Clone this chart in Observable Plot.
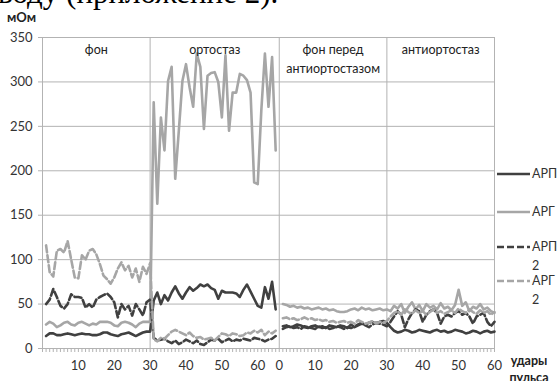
<!DOCTYPE html>
<html><head><meta charset="utf-8">
<script src="https://cdn.jsdelivr.net/npm/d3@7"></script>
<script src="https://cdn.jsdelivr.net/npm/@observablehq/plot@0.6"></script>
<style>
body{margin:0;background:#fff;}
#c{position:relative;width:558px;height:381px;overflow:hidden;}
</style>
</head><body><div id="c"></div>
<script>
// ---- data ----
const seriesNames = ["АРП", "АРГ", "АРП 2", "АРГ 2"];
const panelNames = ["фон", "ортостаз", "фон перед\nантиортостазом", "антиортостаз"];
const yTicks = [0, 50, 100, 150, 200, 250, 300, 350];
const part1TickLabels = [10, 20, 30, 40, 50, 60];
const part2TickLabels = [0, 10, 20, 30, 40, 50, 60];
const PART2_START = 66;           // category where second record (label 0) begins
const panelBounds = [0, 30, 66, 96, 126];

// part 1: фон (1..30) + ортостаз (31..65)
const ARP_1 = [14,17,17,15,15,16,17,16,15,16,17,16,16,15,15,16,18,18,16,15,14,16,17,18,16,14,16,18,19,19,
  54,63,50,60,54,63,70,62,56,63,69,65,68,72,70,72,68,66,56,65,63,63,63,62,58,66,72,64,56,48,46,69,56,75,44];
const ARG_1 = [27,30,28,24,26,29,30,27,26,29,30,28,26,28,27,30,30,30,29,26,25,29,30,29,27,24,28,30,30,30,
  277,163,260,223,301,317,191,245,301,320,294,272,332,317,247,307,310,311,300,260,330,245,288,288,309,307,302,288,187,185,268,332,272,328,223];
const ARP2_1 = [50,55,67,58,48,45,50,61,58,58,57,46,50,46,55,58,60,62,58,52,35,50,44,48,37,50,44,37,52,55,
  12,9,10,11,8,6,9,5,7,10,8,6,9,5,4,7,10,9,11,7,9,11,8,10,9,11,10,9,12,11,10,8,10,11,14];
const ARG2_1 = [116,86,81,110,112,108,121,100,80,79,105,100,110,112,106,95,82,78,73,80,90,97,88,93,80,90,75,92,84,96,
  10,8,12,11,15,19,21,19,17,15,18,14,12,13,10,11,12,9,13,17,16,14,17,16,14,15,18,17,20,18,21,15,19,17,20];

// part 2: фон перед антиортостазом (1..30) + антиортостаз (31..60)
const ARP_2 = [25,26,24,25,27,26,24,23,25,26,24,25,23,26,25,24,26,25,23,27,24,26,28,27,29,30,28,30,31,29,
  24,20,18,19,21,20,18,19,21,20,19,18,20,21,19,20,18,19,21,20,19,17,18,20,19,17,19,20,18,19];
const ARG_2 = [50,49,47,48,46,47,45,46,44,45,46,44,45,43,44,42,41,41,42,44,45,43,46,44,45,43,44,45,43,44,
  42,48,45,50,40,47,52,44,49,42,50,46,48,44,51,45,47,43,49,66,48,52,42,47,45,50,44,46,42,40];
const ARP2_2 = [22,24,25,23,24,22,25,24,23,22,25,23,24,22,23,25,24,22,24,23,25,27,29,26,24,27,29,28,27,25,
  30,36,42,38,24,33,40,44,42,30,38,42,44,40,28,36,38,36,40,42,38,40,36,28,36,38,40,30,25,30];
const ARG2_2 = [34,35,33,34,32,33,35,33,34,32,33,31,32,30,31,29,30,31,29,30,28,32,30,28,29,31,28,30,29,31,
  36,40,42,38,44,41,39,43,40,42,38,41,44,40,42,39,41,43,40,45,42,40,44,41,39,43,40,42,38,41];

// ---- build ----
const DARK = "#404040", LIGHT = "#a6a6a6", GRID = "#b3b3b3";
const FONT = "Lato, 'Open Sans', sans-serif";
function rows(p1, p2) {
  return [...p1.map((v, i) => ({g: i + 1, v, part: 1})),
          ...p2.map((v, i) => ({g: PART2_START + i + 1, v, part: 2}))];
}
const series = [
  {name: seriesNames[0], data: rows(ARP_1, ARP_2), color: DARK, dash: null},
  {name: seriesNames[1], data: rows(ARG_1, ARG_2), color: LIGHT, dash: null},
  {name: seriesNames[2], data: rows(ARP2_1, ARP2_2), color: DARK, dash: "7,3"},
  {name: seriesNames[3], data: rows(ARG2_1, ARG2_2), color: LIGHT, dash: "7,3"}
];
const tickPos = [...part1TickLabels.map(l => ({g: l, l})), ...part2TickLabels.map(l => ({g: PART2_START + l, l}))];
const labelAt = new Map(tickPos.map(d => [d.g, String(d.l)]));
const allTicks = d3.range(panelBounds[0], panelBounds[panelBounds.length - 1] + 1);
const panelText = panelNames.map((t, i) => ({t, g: (panelBounds[i] + panelBounds[i + 1]) / 2}));

const chart = Plot.plot({
  width: 558, height: 381,
  marginLeft: 42, marginRight: 64, marginTop: 37, marginBottom: 33,
  style: {fontFamily: FONT, fontSize: "13px", color: "#333", background: "#fff"},
  x: {domain: [panelBounds[0], panelBounds[panelBounds.length - 1]]},
  y: {domain: [0, 350]},
  marks: [
    Plot.ruleY(yTicks.slice(1), {stroke: GRID, strokeWidth: 1}),
    Plot.ruleX(panelBounds, {stroke: GRID, strokeWidth: 1}),
    Plot.ruleY([0], {stroke: GRID, strokeWidth: 1}),
    Plot.axisY({ticks: yTicks, tickSize: 4, tickPadding: 6, stroke: GRID, fill: "#333", label: null, fontSize: 13}),
    Plot.axisX({ticks: allTicks, tickSize: 4, tickPadding: 8, stroke: GRID, fill: "#333", label: null, fontSize: 13,
      tickFormat: g => labelAt.get(g) ?? ""}),
    ...series.map(s => Plot.line(s.data, {x: "g", y: "v", z: "part", stroke: s.color, strokeWidth: 2.6,
      strokeDasharray: s.dash, strokeLinejoin: "round"})),
    Plot.text(panelText, {x: "g", y: 350, text: "t", lineAnchor: "top", dy: 3, fontSize: 12.5, lineHeight: 1.5, fill: "#222"})
  ]
});

const svg = d3.select(chart);
// cropped caption text from the page above
svg.append("text").attr("x", -2).attr("y", 3).attr("text-anchor", "start").attr("font-family", "'Liberation Serif', serif")
  .attr("font-size", 31).attr("fill", "#000").text("воду (приложение 2).");
// unit label
svg.append("text").attr("x", 7).attr("y", 22).attr("text-anchor", "start").attr("font-family", FONT)
  .attr("font-size", 13).attr("font-weight", "bold").attr("fill", "#222").text("мОм");
// x-axis title
const xt = svg.append("text").attr("font-family", FONT).attr("font-size", 12.5)
  .attr("font-weight", "bold").attr("fill", "#222").attr("text-anchor", "middle");
xt.append("tspan").attr("x", 529).attr("y", 365).text("удары");
xt.append("tspan").attr("x", 529).attr("y", 382).text("пульса");
// legend
const legY = [174, 212, 247, 281];
series.forEach((s, i) => {
  svg.append("line").attr("x1", 497).attr("x2", 530).attr("y1", legY[i]).attr("y2", legY[i])
    .attr("stroke", s.color).attr("stroke-width", 2.6).attr("stroke-dasharray", s.dash);
  const parts = s.name.split(" ");
  const t = svg.append("text").attr("text-anchor", "start").attr("font-family", FONT).attr("font-size", 12.5).attr("fill", "#333");
  parts.forEach((p, k) => t.append("tspan").attr("x", 532).attr("y", legY[i] + 4 + k * 19).text(p));
});

document.getElementById("c").appendChild(chart);
</script>
</body></html>
